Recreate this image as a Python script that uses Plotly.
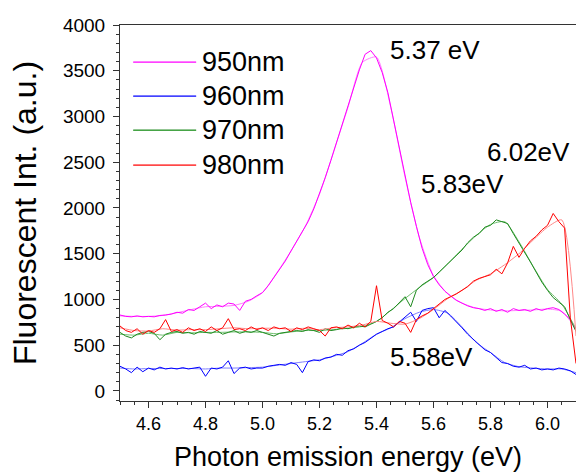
import plotly.graph_objects as go

# Photon emission energy grid (eV) of the measured spectra
energy = [4.50, 4.52, 4.54, 4.56, 4.58, 4.60, 4.62, 4.64, 4.66, 4.68,
          4.70, 4.72, 4.74, 4.76, 4.78, 4.80, 4.82, 4.84, 4.86, 4.88,
          4.90, 4.92, 4.94, 4.96, 4.98, 5.00, 5.02, 5.04, 5.06, 5.08,
          5.10, 5.12, 5.14, 5.16, 5.18, 5.20, 5.22, 5.24, 5.26, 5.28,
          5.30, 5.32, 5.34, 5.36, 5.38, 5.40, 5.42, 5.44, 5.46, 5.48,
          5.50, 5.52, 5.54, 5.56, 5.58, 5.60, 5.62, 5.64, 5.66, 5.68,
          5.70, 5.72, 5.74, 5.76, 5.78, 5.80, 5.82, 5.84, 5.86, 5.88,
          5.90, 5.92, 5.94, 5.96, 5.98, 6.00, 6.02, 6.04, 6.06, 6.08,
          6.10]

# Raw fluorescence spectra (a.u.)
raw_950 = [830, 815, 810, 820, 810, 815, 810, 825, 830, 840,
           860, 850, 890, 880, 920, 960, 900, 940, 920, 960,
           950, 880, 980, 1000, 1040, 1075, 1150, 1240, 1340, 1420,
           1530, 1640, 1740, 1850, 1990, 2150, 2330, 2520, 2720, 2900,
           3100, 3320, 3510, 3680, 3720, 3640, 3480, 3260, 2950, 2640,
           2350, 2060, 1800, 1560, 1380, 1250, 1160, 1090, 1040, 990,
           960, 930, 910, 900, 880, 900, 870, 890, 860, 900,
           880, 890, 870, 900, 880, 900, 910, 890, 840, 780,
           660]
raw_960 = [270, 240, 200, 260, 210, 250, 230, 260, 240, 250,
           240, 255, 240, 250, 260, 160, 250, 240, 260, 330,
           190, 250, 260, 240, 250, 250, 270, 280, 290, 280,
           310, 290, 200, 320, 340, 330, 360, 370, 400, 390,
           440, 460, 500, 530, 580, 620, 650, 680, 700, 750,
           800, 860, 760, 880, 900, 910, 800, 880, 820, 760,
           690, 620, 560, 500, 450, 420, 370, 310, 300, 270,
           260, 280, 240, 250, 230, 240, 230, 250, 240, 220,
           180]
raw_970 = [640, 600, 580, 620, 640, 650, 630, 560, 620, 640,
           650, 630, 640, 620, 650, 640, 630, 660, 620, 640,
           660, 630, 650, 640, 660, 640, 620, 600, 630, 640,
           650, 660, 650, 670, 660, 640, 680, 660, 670, 690,
           680, 700, 710, 700, 730, 760, 800, 860, 900, 960,
           1030, 920, 1100, 1160, 1200, 1240, 1300, 1360, 1420, 1490,
           1540, 1620, 1680, 1720, 1790, 1810, 1870, 1850, 1830, 1720,
           1620, 1520, 1410, 1300, 1190, 1100, 1020, 970, 920, 780,
           650]
raw_980 = [710, 660, 640, 680, 620, 660, 640, 680, 780, 650,
           670, 640, 690, 660, 680, 650, 700, 660, 690, 790,
           670, 680, 660, 700, 670, 690, 660, 700, 680, 690,
           650, 690, 670, 700, 680, 660, 600, 690, 700, 680,
           720, 690, 740, 700, 760, 1150, 770, 740, 700, 760,
           740, 640, 780, 820, 850, 900, 960, 1000, 1030, 1060,
           1100, 1140, 1200, 1230, 1250, 1270, 1330, 1280, 1400, 1580,
           1460, 1560, 1640, 1690, 1760, 1810, 1940, 1850, 1780, 800,
           300]

# Smoothed spectra, coarser grid
energy_fit = [4.50, 4.55, 4.60, 4.65, 4.70, 4.75, 4.80, 4.85, 4.90, 4.95,
              5.00, 5.05, 5.10, 5.15, 5.20, 5.25, 5.30, 5.35, 5.40, 5.45,
              5.50, 5.55, 5.60, 5.65, 5.70, 5.75, 5.80, 5.85, 5.90, 5.95,
              6.00, 6.05, 6.10]
fit_950 = [820, 815, 815, 825, 855, 890, 920, 925, 935, 980,
           1075, 1290, 1530, 1800, 2150, 2620, 3100, 3590, 3650, 3100,
           2340, 1680, 1260, 1060, 960, 905, 885, 875, 880, 885,
           895, 870, 680]
fit_960 = [250, 240, 245, 245, 245, 245, 240, 250, 250, 255,
           260, 280, 300, 320, 340, 380, 430, 520, 620, 690,
           790, 860, 890, 850, 700, 530, 420, 310, 265, 250,
           240, 240, 200]
fit_970 = [620, 610, 630, 610, 640, 635, 640, 640, 645, 645,
           640, 625, 645, 660, 660, 670, 685, 705, 760, 880,
           1010, 1130, 1240, 1390, 1550, 1700, 1820, 1850, 1630, 1360,
           1110, 950, 680]
fit_980 = [690, 660, 655, 680, 665, 670, 670, 680, 690, 680,
           685, 685, 675, 685, 670, 690, 700, 720, 760, 740,
           730, 790, 890, 1010, 1100, 1210, 1280, 1380, 1500, 1650,
           1790, 1870, 600]

series_names = ["950nm", "960nm", "970nm", "980nm"]
raw_colors = ["#ff00ff", "#0000ff", "#1f8a1f", "#ff0000"]
fit_colors = ["#ff80ff", "#8080ff", "#70c070", "#ff8888"]

peak_labels = ["5.37 eV", "5.58eV", "5.83eV", "6.02eV"]
peak_label_x = [5.44, 5.44, 5.55, 5.78]
peak_label_y = [3730, 366, 2265, 2610]

raws = [raw_950, raw_960, raw_970, raw_980]
fits = [fit_950, fit_960, fit_970, fit_980]

FONT = "Liberation Sans, Arial, sans-serif"

fig = go.Figure()
for name, r, f, rc, fc in zip(series_names, raws, fits, raw_colors, fit_colors):
    fig.add_trace(go.Scatter(x=energy_fit, y=f, mode="lines", name=name + " fit",
                             line=dict(color=fc, width=1, shape="spline", smoothing=0.6),
                             showlegend=False))
    fig.add_trace(go.Scatter(x=energy, y=r, mode="lines", name=name,
                             line=dict(color=rc, width=1), showlegend=False))

# Hand-drawn legend (long line samples like the reference)
leg_y = [0.9016, 0.8112, 0.7207, 0.6277]
for name, yy, rc, fc in zip(series_names, leg_y, raw_colors, fit_colors):
    fig.add_shape(type="line", xref="paper", yref="paper", x0=0.029, x1=0.167,
                  y0=yy - 0.0013, y1=yy - 0.0013, line=dict(color=fc, width=1))
    fig.add_shape(type="line", xref="paper", yref="paper", x0=0.029, x1=0.167,
                  y0=yy, y1=yy, line=dict(color=rc, width=1))
    fig.add_annotation(xref="paper", yref="paper", x=0.176, y=yy, text=name,
                       showarrow=False, xanchor="left", yanchor="middle",
                       font=dict(family=FONT, size=27, color="black"))

for t, xx, yy in zip(peak_labels, peak_label_x, peak_label_y):
    fig.add_annotation(x=xx, y=yy, text=t, showarrow=False, xanchor="left",
                       yanchor="middle", font=dict(family=FONT, size=26, color="black"))

axis_col = "#333333"
fig.update_layout(
    width=576, height=472,
    margin=dict(l=120, r=0, t=25, b=71),
    paper_bgcolor="white", plot_bgcolor="white",
    font=dict(family=FONT, color="black"),
    showlegend=False,
    xaxis=dict(range=[4.5, 6.1], tick0=4.6, dtick=0.2, tickformat=".1f",
               showgrid=False, zeroline=False, showline=True, linecolor=axis_col,
               linewidth=1, mirror=True, ticks="outside", ticklen=6, tickcolor=axis_col,
               tickfont=dict(size=18, family=FONT),
               minor=dict(dtick=0.05, tick0=4.5, ticks="outside", ticklen=3, tickcolor=axis_col),
               title=dict(text="Photon emission energy (eV)", font=dict(size=27, family=FONT),
                          standoff=16),
               automargin=False),
    yaxis=dict(range=[-110, 4000], tick0=0, dtick=500,
               showgrid=False, zeroline=False, showline=True, linecolor=axis_col,
               linewidth=1, ticks="outside", ticklen=6, tickcolor=axis_col,
               tickfont=dict(size=19, family=FONT), ticklabelstandoff=4,
               minor=dict(dtick=100, ticks="outside", ticklen=3, tickcolor=axis_col),
               title=dict(text="Fluorescent Int. (a.u.)", font=dict(size=32, family=FONT),
                          standoff=16),
               automargin=False),
)

fig.write_html("out.html", config={"displayModeBar": False},
               post_script="document.body.style.margin='0';document.body.style.overflow='hidden';")
